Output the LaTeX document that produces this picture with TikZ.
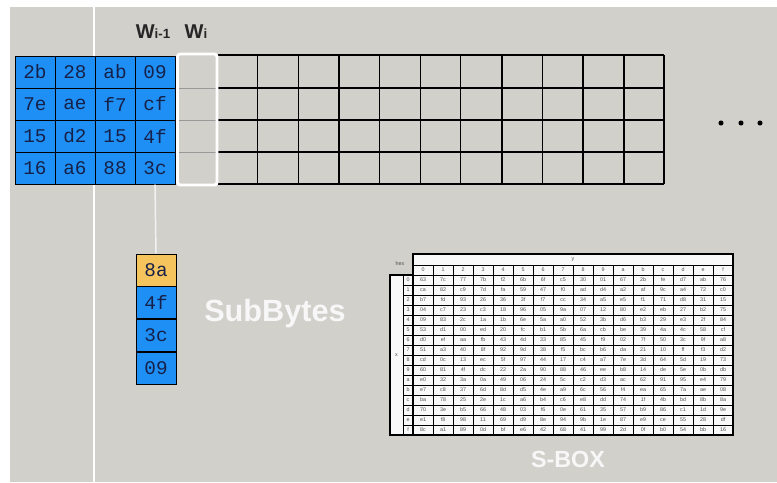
\documentclass[tikz,border=0pt]{standalone}
\usepackage{fontspec}
\setmainfont{Liberation Sans}
\setmonofont{Liberation Mono}
\usepackage{xcolor}
\usepackage{tikz}
\usetikzlibrary{positioning}
\definecolor{bggray}{RGB}{209,208,203}
\definecolor{wordblue}{RGB}{30,144,245}
\definecolor{byteorange}{RGB}{245,196,92}
\definecolor{bytetext}{RGB}{22,32,72}
\definecolor{sboxtext}{RGB}{80,80,80}
\tikzstyle{link} = [white!90!gray, line width=1.1pt]

\begin{document}
\begin{tikzpicture}[
    x=0.75pt, y=-0.75pt,
    byte/.style={rectangle, draw=black, line width=0.6pt, fill=#1,
                 minimum width=30pt, minimum height=24pt, inner sep=0pt,
                 font=\fontsize{14.5}{16}\ttfamily, text=bytetext},
    sbcell/.style={rectangle, draw=black, line width=0.5pt, fill=white!95!gray,
                   minimum width=15pt, minimum height=7.5pt, inner sep=0pt,
                   font=\fontsize{4}{4}\selectfont, text=sboxtext},
    sbidx/.style={sbcell, minimum width=7.5pt},
    wlabel/.style={anchor=base, inner sep=0pt, font=\fontsize{15}{18}\bfseries, text=black!85},
    title/.style={font=\fontsize{#1}{#1}\bfseries, text=white!94!gray},
    gridline/.style={black, line width=0.8pt},
    dot/.style={fill=black}
]
% frame
\useasboundingbox (0,0) rectangle (777,482);
\fill[white] (0,0) rectangle (777,482);
\fill[bggray] (10,7) rectangle (777,482);
\draw[white, line width=1.1pt] (94,7) -- (94,482);

% key schedule words
\foreach \k in {1,...,12}
  \draw[gridline] ({176+40.7*\k},55) -- ({176+40.7*\k},184);
\foreach \k in {4,8,11,12}
  \draw[gridline, line width=1.4pt] ({176+40.7*\k},55) -- ({176+40.7*\k},184);
\foreach \y in {88,120,152} {
  \draw[gridline] (218,\y) -- (664.4,\y);
  \draw[black!40, line width=0.6pt] (176,\y) -- (218,\y);
}
\draw[gridline, line width=1.3pt] (218,55) -- (664.4,55);
\draw[gridline, line width=1.3pt] (218,184) -- (664.4,184);

% state
\foreach \r/\vals in {0/{2b,28,ab,09}, 1/{7e,ae,f7,cf}, 2/{15,d2,15,4f}, 3/{16,a6,88,3c}}
  \foreach \v [count=\c from 0] in \vals
    \node[byte=wordblue] (s\r\c) at ({35+40*\c},{72+32*\r}) {\v};

\draw[white, line width=2.2pt, rounded corners=2pt] (177.5,54) rectangle (217,185);
\node[wlabel] (wprev) at (153,38) {W{\fontsize{10}{12}\selectfont i-1}};
\node[wlabel] (wcur) at (196,38) {W{\fontsize{10}{12}\selectfont i}};

\fill[dot] (721,123) circle (1.9pt);
\fill[dot] (741,123) circle (1.9pt);
\fill[dot] (760,123) circle (1.9pt);

% rotated word
\node[byte=byteorange] (b0) at (156,270) {8a};
\node[byte=wordblue, below=0pt of b0] (b1) {4f};
\node[byte=wordblue, below=0pt of b1] (b2) {3c};
\node[byte=wordblue, below=0pt of b2] (b3) {09};
\draw[link] (s33.south) -- (b0.north);

\node[title=23] (subbytes) at (275,314) {SubBytes};

% S-box
\node[font=\fontsize{4}{4}\selectfont, text=black!70] (hex) at (400,264) {hex};
\node[sbcell, minimum width=240pt, minimum height=8.25pt] (ybox) at (573,259.5) {y};
\node[sbcell, minimum width=9.75pt, minimum height=120pt] (xbox) at (396.5,355) {x};
\foreach \h [count=\c from 0] in {0,1,2,3,4,5,6,7,8,9,a,b,c,d,e,f} {
  \node[sbcell] (h\c) at ({423+20*\c},270) {\h};
  \node[sbidx] (r\c) at (408,{280+10*\c}) {\h};
}
\foreach \vals [count=\i from 0] in {
  {63,7c,77,7b,f2,6b,6f,c5,30,01,67,2b,fe,d7,ab,76},
  {ca,82,c9,7d,fa,59,47,f0,ad,d4,a2,af,9c,a4,72,c0},
  {b7,fd,93,26,36,3f,f7,cc,34,a5,e5,f1,71,d8,31,15},
  {04,c7,23,c3,18,96,05,9a,07,12,80,e2,eb,27,b2,75},
  {09,83,2c,1a,1b,6e,5a,a0,52,3b,d6,b3,29,e3,2f,84},
  {53,d1,00,ed,20,fc,b1,5b,6a,cb,be,39,4a,4c,58,cf},
  {d0,ef,aa,fb,43,4d,33,85,45,f9,02,7f,50,3c,9f,a8},
  {51,a3,40,8f,92,9d,38,f5,bc,b6,da,21,10,ff,f3,d2},
  {cd,0c,13,ec,5f,97,44,17,c4,a7,7e,3d,64,5d,19,73},
  {60,81,4f,dc,22,2a,90,88,46,ee,b8,14,de,5e,0b,db},
  {e0,32,3a,0a,49,06,24,5c,c2,d3,ac,62,91,95,e4,79},
  {e7,c8,37,6d,8d,d5,4e,a9,6c,56,f4,ea,65,7a,ae,08},
  {ba,78,25,2e,1c,a6,b4,c6,e8,dd,74,1f,4b,bd,8b,8a},
  {70,3e,b5,66,48,03,f6,0e,61,35,57,b9,86,c1,1d,9e},
  {e1,f8,98,11,69,d9,8e,94,9b,1e,87,e9,ce,55,28,df},
  {8c,a1,89,0d,bf,e6,42,68,41,99,2d,0f,b0,54,bb,16}}
  \foreach \v [count=\c from 0] in \vals
    \node[sbcell] (sb\i-\c) at ({423+20*\c},{280+10*\i}) {\v};
\draw[black, line width=1.1pt] (413,254) rectangle (733,435);
\draw[black, line width=1.1pt] (390,275) rectangle (413,435);

\node[title=17.5] (sboxlabel) at (568,459) {S-BOX};
\end{tikzpicture}
\end{document}
